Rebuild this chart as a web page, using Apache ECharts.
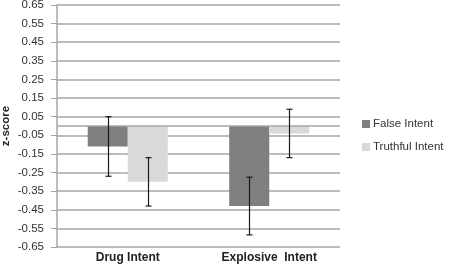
<!DOCTYPE html>
<html>
<head>
<meta charset="utf-8">
<script src="https://cdn.jsdelivr.net/npm/echarts@6/dist/echarts.min.js"></script>
<style>
  html, body { margin: 0; padding: 0; background: #fff; }
  #main { width: 454px; height: 266px; }
</style>
</head>
<body>
<div id="main"></div>
<script>
// values
const categories = ['Drug Intent', 'Explosive  Intent'];
const falseIntent = [-0.11, -0.43];
const truthfulIntent = [-0.30, -0.04];
const falseErr = [0.16, 0.155];
const truthfulErr = [0.13, 0.13];

const BAR_RATIO = 0.283; // bar width / category band

function errData(means, errs) {
  return means.map((m, i) => [i, m - errs[i], m + errs[i]]);
}

function errRender(side) {
  return function (params, api) {
    const band = api.size([1, 0])[0];
    const bw = band * BAR_RATIO;
    const lo = api.coord([api.value(0), api.value(1)]);
    const hi = api.coord([api.value(0), api.value(2)]);
    const x = Math.round(lo[0] + side * bw / 2) + 0.5;
    const cap = 3;
    const style = { stroke: '#1a1a1a', lineWidth: 1.2 };
    return {
      type: 'group',
      children: [
        { type: 'line', shape: { x1: x, y1: hi[1], x2: x, y2: lo[1] }, style },
        { type: 'line', shape: { x1: x - cap, y1: hi[1], x2: x + cap, y2: hi[1] }, style },
        { type: 'line', shape: { x1: x - cap, y1: lo[1], x2: x + cap, y2: lo[1] }, style }
      ]
    };
  };
}

var myChart = echarts.init(document.getElementById('main'));
myChart.setOption({
  animation: false,
  textStyle: { fontFamily: 'Liberation Sans' },
  grid: { left: 57, right: 114, top: 5, bottom: 19, outerBoundsMode: 'none' },
  legend: {
    orient: 'vertical',
    left: 362, top: 118, padding: 0,
    itemWidth: 8, itemHeight: 8, itemGap: 11,
    textStyle: { fontSize: 11.5, color: '#333', padding: [0, 0, 0, -2] },
    data: [
      { name: 'False Intent', icon: 'rect' },
      { name: 'Truthful Intent', icon: 'rect' }
    ]
  },
  xAxis: {
    type: 'category',
    data: categories,
    axisLine: { show: false },
    axisTick: { show: false },
    axisLabel: { fontSize: 12, fontWeight: 'bold', color: '#222', margin: 5 }
  },
  yAxis: {
    type: 'value',
    min: -0.65, max: 0.65, interval: 0.1,
    name: 'z-score',
    nameLocation: 'middle',
    nameRotate: 90,
    nameGap: 45,
    nameMoveOverlap: false,
    nameTextStyle: { fontSize: 11.5, fontWeight: 'bold', color: '#222' },
    axisLine: { show: true, lineStyle: { color: '#a6a6a6', width: 1.5 } },
    axisTick: { show: true, inside: false, length: 6, lineStyle: { color: '#a6a6a6' } },
    axisLabel: {
      fontSize: 11.5, color: '#333', margin: 13,
      formatter: v => v.toFixed(2)
    },
    splitLine: { lineStyle: { color: '#a6a6a6', width: 1.5 } }
  },
  series: [
    {
      name: 'False Intent', type: 'bar',
      data: falseIntent,
      barWidth: (BAR_RATIO * 100) + '%', barGap: '0%',
      itemStyle: { color: '#7f7f7f' },
      markLine: {
        silent: true, symbol: 'none', label: { show: false },
        lineStyle: { color: '#a6a6a6', type: 'solid', width: 1.5 },
        data: [{ yAxis: 0 }]
      }
    },
    {
      name: 'Truthful Intent', type: 'bar',
      data: truthfulIntent,
      barWidth: (BAR_RATIO * 100) + '%', barGap: '0%',
      itemStyle: { color: '#d9d9d9' }
    },
    {
      type: 'custom', renderItem: errRender(-1),
      data: errData(falseIntent, falseErr), z: 5
    },
    {
      type: 'custom', renderItem: errRender(1),
      data: errData(truthfulIntent, truthfulErr), z: 5
    }
  ]
});
</script>
</body>
</html>
